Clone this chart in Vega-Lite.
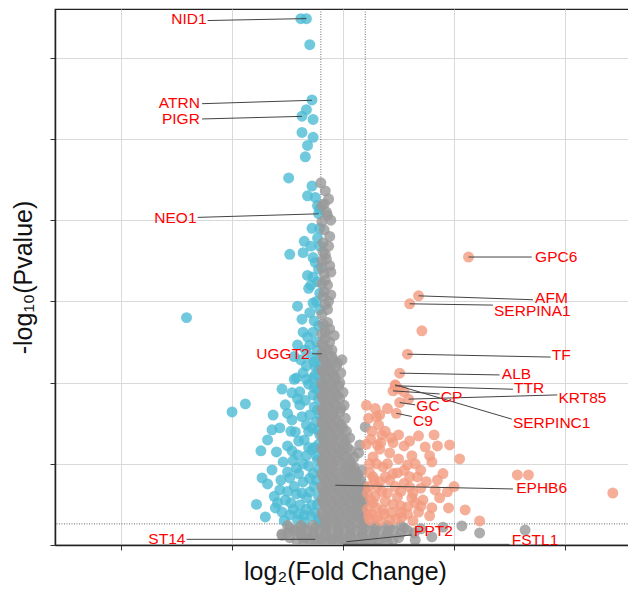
{
  "$schema": "https://vega.github.io/schema/vega-lite/v6.json",
  "width": 580,
  "height": 536,
  "autosize": "none",
  "padding": {"left": 55, "top": 9, "right": 0, "bottom": 46},
  "background": "white",
  "config": {
    "font": "Liberation Sans",
    "view": {"stroke": "#222222", "strokeWidth": 1.2},
    "axis": {
      "labels": false,
      "grid": true,
      "gridColor": "#D9D9D9",
      "gridWidth": 1,
      "tickColor": "#333333",
      "tickSize": 5,
      "domainColor": "#222222",
      "domainWidth": 1.5,
      "titleFont": "Liberation Sans",
      "titleFontWeight": "normal",
      "titleFontSize": 25,
      "titleColor": "#111111"
    }
  },
  "datasets": {
    "pts": [
      {"x":-0.38,"y":32.4,"g":"Down"},{"x":-0.33,"y":32.4,"g":"Down"},{"x":-0.30,"y":30.8,"g":"Down"},{"x":-0.28,"y":27.4,"g":"Down"},
      {"x":-0.37,"y":26.4,"g":"Down"},{"x":-0.33,"y":26.8,"g":"Down"},{"x":-0.27,"y":26.2,"g":"Down"},{"x":-0.37,"y":25.4,"g":"Down"},
      {"x":-0.27,"y":25.1,"g":"Down"},{"x":-0.32,"y":24.6,"g":"Down"},{"x":-0.34,"y":23.9,"g":"Down"},{"x":-0.49,"y":22.6,"g":"Down"},
      {"x":-0.28,"y":22.1,"g":"Down"},{"x":-0.32,"y":21.5,"g":"Down"},{"x":-0.25,"y":21.4,"g":"Down"},{"x":-0.23,"y":20.9,"g":"Down"},
      {"x":-0.21,"y":20.7,"g":"Down"},{"x":-0.22,"y":20.4,"g":"Down"},{"x":-0.28,"y":19.5,"g":"Down"},{"x":-0.21,"y":19.5,"g":"Down"},
      {"x":-0.35,"y":18.7,"g":"Down"},{"x":-0.23,"y":18.9,"g":"Down"},{"x":-0.21,"y":18.4,"g":"Down"},{"x":-0.36,"y":18.0,"g":"Down"},
      {"x":-0.48,"y":17.9,"g":"Down"},{"x":-0.27,"y":17.7,"g":"Down"},{"x":-0.25,"y":17.4,"g":"Down"},{"x":-0.32,"y":16.6,"g":"Down"},
      {"x":-0.27,"y":16.5,"g":"Down"},{"x":-0.23,"y":16.2,"g":"Down"},{"x":-0.21,"y":15.5,"g":"Down"},{"x":-0.41,"y":14.7,"g":"Down"},
      {"x":-0.27,"y":14.9,"g":"Down"},{"x":-0.30,"y":14.3,"g":"Down"},{"x":-0.36,"y":13.1,"g":"Down"},{"x":-0.27,"y":13.1,"g":"Down"},
      {"x":-0.32,"y":12.8,"g":"Down"},{"x":-1.41,"y":14.0,"g":"Down"},
      {"x":-0.42,"y":10.29,"g":"Down"},{"x":-0.33,"y":11.03,"g":"Down"},{"x":-0.26,"y":11.28,"g":"Down"},{"x":-0.39,"y":9.43,"g":"Down"},
      {"x":-0.46,"y":9.37,"g":"Down"},{"x":-0.27,"y":9.24,"g":"Down"},{"x":-0.52,"y":8.63,"g":"Down"},{"x":-0.39,"y":8.63,"g":"Down"},
      {"x":-0.46,"y":7.70,"g":"Down"},{"x":-0.30,"y":8.01,"g":"Down"},{"x":-0.57,"y":7.21,"g":"Down"},{"x":-0.43,"y":6.96,"g":"Down"},
      {"x":-0.35,"y":6.47,"g":"Down"},{"x":-0.50,"y":6.10,"g":"Down"},{"x":-0.60,"y":5.73,"g":"Down"},{"x":-0.41,"y":5.55,"g":"Down"},
      {"x":-0.28,"y":5.85,"g":"Down"},{"x":-0.68,"y":6.47,"g":"Down"},{"x":-0.54,"y":5.11,"g":"Down"},{"x":-0.42,"y":4.74,"g":"Down"},
      {"x":-0.31,"y":4.87,"g":"Down"},{"x":-0.64,"y":4.62,"g":"Down"},{"x":-0.73,"y":4.13,"g":"Down"},{"x":-0.48,"y":4.13,"g":"Down"},
      {"x":-0.36,"y":3.88,"g":"Down"},{"x":-0.57,"y":3.39,"g":"Down"},{"x":-0.68,"y":3.76,"g":"Down"},{"x":-0.42,"y":3.14,"g":"Down"},
      {"x":-0.30,"y":3.27,"g":"Down"},{"x":-0.52,"y":2.77,"g":"Down"},{"x":-0.39,"y":2.46,"g":"Down"},{"x":-0.61,"y":2.28,"g":"Down"},
      {"x":-0.48,"y":1.85,"g":"Down"},{"x":-0.35,"y":1.85,"g":"Down"},{"x":-0.70,"y":1.73,"g":"Down"},{"x":-0.55,"y":2.03,"g":"Down"},
      {"x":-0.41,"y":1.54,"g":"Down"},{"x":-0.28,"y":2.46,"g":"Down"},{"x":-0.24,"y":4.00,"g":"Down"},{"x":-0.23,"y":5.24,"g":"Down"},
      {"x":-0.23,"y":7.09,"g":"Down"},{"x":-0.23,"y":8.32,"g":"Down"},{"x":-0.23,"y":9.55,"g":"Down"},{"x":-0.25,"y":10.47,"g":"Down"},
      {"x":-0.23,"y":12.01,"g":"Down"},{"x":-0.34,"y":12.01,"g":"Down"},{"x":-0.41,"y":12.32,"g":"Down"},{"x":-1.00,"y":8.19,"g":"Down"},
      {"x":-0.88,"y":8.69,"g":"Down"},{"x":-0.64,"y":7.09,"g":"Down"},
      {"x":-0.22,"y":3.0,"g":"Down"},{"x":-0.25,"y":2.0,"g":"Down"},{"x":-0.22,"y":1.6,"g":"Down"},{"x":-0.26,"y":6.0,"g":"Down"},
      {"x":-0.21,"y":6.8,"g":"Down"},{"x":-0.24,"y":7.6,"g":"Down"},{"x":-0.22,"y":9.0,"g":"Down"},{"x":-0.25,"y":11.0,"g":"Down"},
      {"x":-0.21,"y":10.0,"g":"Down"},{"x":-0.24,"y":12.5,"g":"Down"},{"x":-0.22,"y":13.5,"g":"Down"},{"x":-0.21,"y":14.5,"g":"Down"},
      {"x":-0.26,"y":13.8,"g":"Down"},{"x":-0.24,"y":15.0,"g":"Down"},{"x":-0.31,"y":15.8,"g":"Down"},{"x":-0.22,"y":17.0,"g":"Down"},
      {"x":-0.29,"y":18.4,"g":"Down"},{"x":-0.31,"y":9.9,"g":"Down"},{"x":-0.33,"y":7.4,"g":"Down"},{"x":-0.36,"y":5.0,"g":"Down"},
      {"x":-0.27,"y":4.4,"g":"Down"},{"x":-0.33,"y":2.9,"g":"Down"},{"x":-0.45,"y":2.2,"g":"Down"},{"x":-0.50,"y":4.5,"g":"Down"},
      {"x":-0.62,"y":3.0,"g":"Down"},{"x":-0.47,"y":7.0,"g":"Down"},{"x":-0.55,"y":9.6,"g":"Down"},{"x":-0.36,"y":10.6,"g":"Down"},
      {"x":-0.44,"y":11.6,"g":"Down"},{"x":-0.30,"y":12.3,"g":"Down"},{"x":-0.37,"y":13.9,"g":"Down"},{"x":-0.29,"y":16.0,"g":"Down"},
      {"x":-0.78,"y":2.5,"g":"Down"},{"x":-0.74,"y":5.8,"g":"Down"},{"x":-0.63,"y":8.0,"g":"Down"},
      {"x":-0.29,"y":11.6,"g":"Down"},{"x":-0.38,"y":11.4,"g":"Down"},{"x":-0.22,"y":10.8,"g":"Down"},{"x":-0.33,"y":10.2,"g":"Down"},
      {"x":-0.26,"y":9.7,"g":"Down"},{"x":-0.41,"y":9.0,"g":"Down"},{"x":-0.34,"y":8.9,"g":"Down"},{"x":-0.26,"y":8.5,"g":"Down"},
      {"x":-0.21,"y":8.0,"g":"Down"},{"x":-0.37,"y":7.9,"g":"Down"},{"x":-0.28,"y":7.2,"g":"Down"},{"x":-0.40,"y":6.4,"g":"Down"},
      {"x":-0.22,"y":6.2,"g":"Down"},{"x":-0.31,"y":6.0,"g":"Down"},{"x":-0.46,"y":5.8,"g":"Down"},{"x":-0.24,"y":5.5,"g":"Down"},
      {"x":-0.33,"y":5.5,"g":"Down"},{"x":-0.45,"y":5.2,"g":"Down"},{"x":-0.22,"y":4.7,"g":"Down"},{"x":-0.40,"y":4.4,"g":"Down"},
      {"x":-0.30,"y":4.1,"g":"Down"},{"x":-0.56,"y":4.0,"g":"Down"},{"x":-0.44,"y":3.6,"g":"Down"},{"x":-0.26,"y":3.6,"g":"Down"},
      {"x":-0.50,"y":3.3,"g":"Down"},{"x":-0.37,"y":3.2,"g":"Down"},{"x":-0.23,"y":2.5,"g":"Down"},{"x":-0.47,"y":2.6,"g":"Down"},
      {"x":-0.33,"y":2.2,"g":"Down"},{"x":-0.59,"y":2.6,"g":"Down"},{"x":-0.29,"y":1.8,"g":"Down"},{"x":-0.40,"y":1.9,"g":"Down"},
      {"x":-0.22,"y":1.4,"g":"Down"},{"x":-0.53,"y":1.5,"g":"Down"},{"x":-0.35,"y":1.4,"g":"Down"},{"x":-0.31,"y":7.0,"g":"Down"},
      {"x":-0.50,"y":8.1,"g":"Down"},{"x":-0.44,"y":10.2,"g":"Down"},{"x":-0.21,"y":11.5,"g":"Down"},{"x":-0.27,"y":10.3,"g":"Down"},

      {"x":-0.20,"y":22.3,"g":"NS"},{"x":-0.14,"y":20.3,"g":"NS"},{"x":-0.19,"y":19.9,"g":"NS"},{"x":-0.18,"y":18.05,"g":"NS"},
      {"x":-0.19,"y":17.07,"g":"NS"},{"x":-0.16,"y":16.3,"g":"NS"},{"x":-0.19,"y":16.1,"g":"NS"},{"x":-0.14,"y":14.5,"g":"NS"},
      {"x":-0.19,"y":14.2,"g":"NS"},{"x":-0.14,"y":13.7,"g":"NS"},{"x":-0.16,"y":13.1,"g":"NS"},{"x":-0.12,"y":12.5,"g":"NS"},
      {"x":-0.15,"y":20.5,"g":"NS"},{"x":-0.17,"y":21.0,"g":"NS"},{"x":-0.12,"y":19.0,"g":"NS"},{"x":-0.18,"y":18.6,"g":"NS"},
      {"x":-0.15,"y":17.6,"g":"NS"},{"x":-0.11,"y":16.8,"g":"NS"},{"x":-0.17,"y":15.6,"g":"NS"},{"x":-0.13,"y":15.0,"g":"NS"},
      {"x":-0.19,"y":13.0,"g":"NS"},{"x":-0.10,"y":12.0,"g":"NS"},{"x":-0.17,"y":12.2,"g":"NS"},{"x":-0.19,"y":11.77,"g":"NS"},
      {"x":-0.16,"y":21.8,"g":"NS"},{"x":-0.13,"y":21.3,"g":"NS"},{"x":-0.19,"y":20.9,"g":"NS"},{"x":-0.11,"y":20.0,"g":"NS"},
      {"x":-0.17,"y":19.4,"g":"NS"},{"x":-0.13,"y":18.4,"g":"NS"},{"x":-0.16,"y":17.9,"g":"NS"},{"x":-0.19,"y":17.5,"g":"NS"},
      {"x":-0.12,"y":17.2,"g":"NS"},{"x":-0.17,"y":16.7,"g":"NS"},{"x":-0.14,"y":16.0,"g":"NS"},{"x":-0.18,"y":15.3,"g":"NS"},
      {"x":-0.11,"y":15.4,"g":"NS"},{"x":-0.16,"y":14.8,"g":"NS"},{"x":-0.18,"y":13.6,"g":"NS"},{"x":-0.12,"y":13.3,"g":"NS"},
      {"x":-0.16,"y":12.7,"g":"NS"},{"x":-0.08,"y":12.9,"g":"NS"},{"x":-0.14,"y":12.0,"g":"NS"},{"x":-0.19,"y":12.4,"g":"NS"},
      {"x":-0.18,"y":11.6,"g":"NS"},{"x":-0.10,"y":11.6,"g":"NS"},{"x":-0.15,"y":11.2,"g":"NS"},{"x":-0.05,"y":11.2,"g":"NS"},
      {"x":-0.19,"y":10.8,"g":"NS"},{"x":-0.12,"y":10.8,"g":"NS"},{"x":-0.16,"y":10.4,"g":"NS"},{"x":-0.08,"y":10.4,"g":"NS"},
      {"x":-0.19,"y":10.0,"g":"NS"},{"x":-0.11,"y":10.0,"g":"NS"},{"x":-0.03,"y":10.0,"g":"NS"},{"x":-0.17,"y":9.6,"g":"NS"},
      {"x":-0.09,"y":9.6,"g":"NS"},{"x":-0.19,"y":9.2,"g":"NS"},{"x":-0.13,"y":9.2,"g":"NS"},{"x":-0.05,"y":9.2,"g":"NS"},
      {"x":-0.16,"y":8.8,"g":"NS"},{"x":-0.08,"y":8.8,"g":"NS"},{"x":-0.19,"y":8.4,"g":"NS"},{"x":-0.12,"y":8.4,"g":"NS"},
      {"x":-0.02,"y":8.4,"g":"NS"},{"x":-0.17,"y":8.0,"g":"NS"},{"x":-0.09,"y":8.0,"g":"NS"},{"x":-0.19,"y":7.6,"g":"NS"},
      {"x":-0.13,"y":7.6,"g":"NS"},{"x":-0.05,"y":7.6,"g":"NS"},{"x":-0.16,"y":7.2,"g":"NS"},{"x":-0.08,"y":7.2,"g":"NS"},
      {"x":0.0,"y":7.2,"g":"NS"},{"x":-0.19,"y":6.8,"g":"NS"},{"x":-0.12,"y":6.8,"g":"NS"},{"x":-0.04,"y":6.8,"g":"NS"},
      {"x":-0.17,"y":6.4,"g":"NS"},{"x":-0.09,"y":6.4,"g":"NS"},{"x":0.02,"y":6.4,"g":"NS"},{"x":-0.19,"y":6.0,"g":"NS"},
      {"x":-0.13,"y":6.0,"g":"NS"},{"x":-0.05,"y":6.0,"g":"NS"},{"x":0.04,"y":6.0,"g":"NS"},{"x":-0.16,"y":5.6,"g":"NS"},
      {"x":-0.08,"y":5.6,"g":"NS"},{"x":0.0,"y":5.6,"g":"NS"},{"x":-0.19,"y":5.2,"g":"NS"},{"x":-0.12,"y":5.2,"g":"NS"},
      {"x":-0.04,"y":5.2,"g":"NS"},{"x":0.06,"y":5.2,"g":"NS"},{"x":-0.17,"y":4.8,"g":"NS"},{"x":-0.09,"y":4.8,"g":"NS"},
      {"x":0.02,"y":4.8,"g":"NS"},{"x":0.10,"y":4.8,"g":"NS"},{"x":-0.19,"y":4.4,"g":"NS"},{"x":-0.13,"y":4.4,"g":"NS"},
      {"x":-0.05,"y":4.4,"g":"NS"},{"x":0.05,"y":4.4,"g":"NS"},{"x":0.13,"y":4.4,"g":"NS"},{"x":-0.16,"y":4.0,"g":"NS"},
      {"x":-0.08,"y":4.0,"g":"NS"},{"x":0.0,"y":4.0,"g":"NS"},{"x":0.09,"y":4.0,"g":"NS"},{"x":0.16,"y":4.0,"g":"NS"},
      {"x":-0.07,"y":3.68,"g":"NS"},{"x":-0.19,"y":3.6,"g":"NS"},{"x":-0.12,"y":3.6,"g":"NS"},{"x":-0.04,"y":3.6,"g":"NS"},
      {"x":0.04,"y":3.6,"g":"NS"},{"x":0.12,"y":3.6,"g":"NS"},{"x":0.19,"y":3.6,"g":"NS"},{"x":-0.17,"y":3.2,"g":"NS"},
      {"x":-0.09,"y":3.2,"g":"NS"},{"x":0.0,"y":3.2,"g":"NS"},{"x":0.08,"y":3.2,"g":"NS"},{"x":0.15,"y":3.2,"g":"NS"},
      {"x":-0.19,"y":2.8,"g":"NS"},{"x":-0.13,"y":2.8,"g":"NS"},{"x":-0.05,"y":2.8,"g":"NS"},{"x":0.03,"y":2.8,"g":"NS"},
      {"x":0.11,"y":2.8,"g":"NS"},{"x":0.18,"y":2.8,"g":"NS"},{"x":-0.16,"y":2.4,"g":"NS"},{"x":-0.08,"y":2.4,"g":"NS"},
      {"x":0.0,"y":2.4,"g":"NS"},{"x":0.08,"y":2.4,"g":"NS"},{"x":0.15,"y":2.4,"g":"NS"},{"x":-0.19,"y":2.0,"g":"NS"},
      {"x":-0.12,"y":2.0,"g":"NS"},{"x":-0.04,"y":2.0,"g":"NS"},{"x":0.04,"y":2.0,"g":"NS"},{"x":0.12,"y":2.0,"g":"NS"},
      {"x":0.19,"y":2.0,"g":"NS"},{"x":-0.17,"y":1.6,"g":"NS"},{"x":-0.09,"y":1.6,"g":"NS"},{"x":0.0,"y":1.6,"g":"NS"},
      {"x":0.08,"y":1.6,"g":"NS"},{"x":0.16,"y":1.6,"g":"NS"},
      {"x":-0.17,"y":11.4,"g":"NS"},{"x":-0.09,"y":11.4,"g":"NS"},{"x":-0.01,"y":11.4,"g":"NS"},{"x":-0.14,"y":11.0,"g":"NS"},
      {"x":-0.06,"y":11.0,"g":"NS"},{"x":-0.18,"y":10.6,"g":"NS"},{"x":-0.10,"y":10.6,"g":"NS"},{"x":-0.02,"y":10.6,"g":"NS"},
      {"x":-0.15,"y":10.2,"g":"NS"},{"x":-0.07,"y":10.2,"g":"NS"},{"x":-0.18,"y":9.8,"g":"NS"},{"x":-0.12,"y":9.8,"g":"NS"},
      {"x":-0.04,"y":9.8,"g":"NS"},{"x":-0.16,"y":9.4,"g":"NS"},{"x":-0.08,"y":9.4,"g":"NS"},{"x":0.0,"y":9.4,"g":"NS"},
      {"x":-0.18,"y":9.0,"g":"NS"},{"x":-0.11,"y":9.0,"g":"NS"},{"x":-0.03,"y":9.0,"g":"NS"},{"x":-0.15,"y":8.6,"g":"NS"},
      {"x":-0.07,"y":8.6,"g":"NS"},{"x":0.01,"y":8.6,"g":"NS"},{"x":-0.18,"y":8.2,"g":"NS"},{"x":-0.10,"y":8.2,"g":"NS"},
      {"x":-0.03,"y":8.2,"g":"NS"},{"x":-0.15,"y":7.8,"g":"NS"},{"x":-0.07,"y":7.8,"g":"NS"},{"x":0.02,"y":7.8,"g":"NS"},
      {"x":-0.18,"y":7.4,"g":"NS"},{"x":-0.11,"y":7.4,"g":"NS"},{"x":-0.02,"y":7.4,"g":"NS"},{"x":-0.15,"y":7.0,"g":"NS"},
      {"x":-0.06,"y":7.0,"g":"NS"},{"x":0.03,"y":7.0,"g":"NS"},{"x":-0.18,"y":6.6,"g":"NS"},{"x":-0.10,"y":6.6,"g":"NS"},
      {"x":-0.01,"y":6.6,"g":"NS"},{"x":0.06,"y":6.6,"g":"NS"},{"x":-0.15,"y":6.2,"g":"NS"},{"x":-0.07,"y":6.2,"g":"NS"},
      {"x":0.01,"y":6.2,"g":"NS"},{"x":-0.18,"y":5.8,"g":"NS"},{"x":-0.11,"y":5.8,"g":"NS"},{"x":-0.02,"y":5.8,"g":"NS"},
      {"x":0.07,"y":5.8,"g":"NS"},{"x":-0.15,"y":5.4,"g":"NS"},{"x":-0.06,"y":5.4,"g":"NS"},{"x":0.03,"y":5.4,"g":"NS"},
      {"x":0.10,"y":5.4,"g":"NS"},{"x":-0.18,"y":5.0,"g":"NS"},{"x":-0.10,"y":5.0,"g":"NS"},{"x":-0.01,"y":5.0,"g":"NS"},
      {"x":0.07,"y":5.0,"g":"NS"},{"x":-0.15,"y":4.6,"g":"NS"},{"x":-0.07,"y":4.6,"g":"NS"},{"x":0.02,"y":4.6,"g":"NS"},
      {"x":0.10,"y":4.6,"g":"NS"},{"x":0.17,"y":4.6,"g":"NS"},{"x":-0.18,"y":4.2,"g":"NS"},{"x":-0.11,"y":4.2,"g":"NS"},
      {"x":-0.02,"y":4.2,"g":"NS"},{"x":0.06,"y":4.2,"g":"NS"},{"x":0.13,"y":4.2,"g":"NS"},{"x":-0.15,"y":3.8,"g":"NS"},
      {"x":-0.07,"y":3.8,"g":"NS"},{"x":0.01,"y":3.8,"g":"NS"},{"x":0.08,"y":3.8,"g":"NS"},{"x":0.15,"y":3.8,"g":"NS"},
      {"x":-0.18,"y":3.4,"g":"NS"},{"x":-0.12,"y":3.4,"g":"NS"},{"x":-0.04,"y":3.4,"g":"NS"},{"x":0.04,"y":3.4,"g":"NS"},
      {"x":0.12,"y":3.4,"g":"NS"},{"x":0.19,"y":3.4,"g":"NS"},{"x":-0.15,"y":3.0,"g":"NS"},{"x":-0.06,"y":3.0,"g":"NS"},
      {"x":0.03,"y":3.0,"g":"NS"},{"x":0.11,"y":3.0,"g":"NS"},{"x":0.18,"y":3.0,"g":"NS"},{"x":-0.18,"y":2.6,"g":"NS"},
      {"x":-0.10,"y":2.6,"g":"NS"},{"x":-0.02,"y":2.6,"g":"NS"},{"x":0.06,"y":2.6,"g":"NS"},{"x":0.13,"y":2.6,"g":"NS"},
      {"x":0.19,"y":2.6,"g":"NS"},{"x":-0.14,"y":2.2,"g":"NS"},{"x":-0.06,"y":2.2,"g":"NS"},{"x":0.02,"y":2.2,"g":"NS"},
      {"x":0.10,"y":2.2,"g":"NS"},{"x":0.17,"y":2.2,"g":"NS"},{"x":-0.18,"y":1.8,"g":"NS"},{"x":-0.11,"y":1.8,"g":"NS"},
      {"x":-0.03,"y":1.8,"g":"NS"},{"x":0.05,"y":1.8,"g":"NS"},{"x":0.12,"y":1.8,"g":"NS"},{"x":0.19,"y":1.8,"g":"NS"},
      {"x":-0.15,"y":1.4,"g":"NS"},{"x":-0.06,"y":1.4,"g":"NS"},{"x":0.03,"y":1.4,"g":"NS"},{"x":0.12,"y":1.4,"g":"NS"},
      {"x":0.19,"y":1.4,"g":"NS"},
      {"x":-0.50,"y":1.2,"g":"NS"},{"x":-0.38,"y":1.2,"g":"NS"},{"x":-0.27,"y":1.2,"g":"NS"},{"x":-0.16,"y":1.2,"g":"NS"},
      {"x":-0.05,"y":1.2,"g":"NS"},{"x":0.06,"y":1.2,"g":"NS"},{"x":0.17,"y":1.2,"g":"NS"},{"x":0.28,"y":1.2,"g":"NS"},
      {"x":0.40,"y":1.2,"g":"NS"},{"x":0.52,"y":1.2,"g":"NS"},{"x":-0.44,"y":0.9,"g":"NS"},{"x":-0.32,"y":0.9,"g":"NS"},
      {"x":-0.21,"y":0.9,"g":"NS"},{"x":-0.10,"y":0.9,"g":"NS"},{"x":0.01,"y":0.9,"g":"NS"},{"x":0.12,"y":0.9,"g":"NS"},
      {"x":0.23,"y":0.9,"g":"NS"},{"x":0.34,"y":0.9,"g":"NS"},{"x":0.46,"y":0.9,"g":"NS"},{"x":0.58,"y":0.9,"g":"NS"},
      {"x":-0.55,"y":0.6,"g":"NS"},{"x":-0.38,"y":0.6,"g":"NS"},{"x":-0.27,"y":0.6,"g":"NS"},{"x":-0.16,"y":0.6,"g":"NS"},
      {"x":-0.05,"y":0.6,"g":"NS"},{"x":0.06,"y":0.6,"g":"NS"},{"x":0.17,"y":0.6,"g":"NS"},{"x":0.28,"y":0.6,"g":"NS"},
      {"x":0.40,"y":0.6,"g":"NS"},{"x":-0.42,"y":0.3,"g":"NS"},{"x":-0.30,"y":0.3,"g":"NS"},{"x":-0.20,"y":0.3,"g":"NS"},
      {"x":-0.10,"y":0.3,"g":"NS"},{"x":0.0,"y":0.3,"g":"NS"},{"x":0.10,"y":0.3,"g":"NS"},{"x":0.20,"y":0.3,"g":"NS"},
      {"x":0.32,"y":0.3,"g":"NS"},{"x":0.45,"y":0.3,"g":"NS"},{"x":-0.25,"y":0.05,"g":"NS"},{"x":-0.15,"y":0.05,"g":"NS"},
      {"x":-0.05,"y":0.05,"g":"NS"},{"x":0.05,"y":0.05,"g":"NS"},{"x":0.15,"y":0.05,"g":"NS"},{"x":0.25,"y":0.05,"g":"NS"},
      {"x":-0.48,"y":1.05,"g":"NS"},{"x":-0.36,"y":1.05,"g":"NS"},{"x":-0.25,"y":1.05,"g":"NS"},{"x":-0.14,"y":1.05,"g":"NS"},
      {"x":-0.03,"y":1.05,"g":"NS"},{"x":0.08,"y":1.05,"g":"NS"},{"x":0.19,"y":1.05,"g":"NS"},{"x":0.30,"y":1.05,"g":"NS"},
      {"x":0.42,"y":1.05,"g":"NS"},{"x":0.55,"y":1.05,"g":"NS"},{"x":-0.50,"y":0.75,"g":"NS"},{"x":-0.38,"y":0.75,"g":"NS"},
      {"x":-0.27,"y":0.75,"g":"NS"},{"x":-0.16,"y":0.75,"g":"NS"},{"x":-0.05,"y":0.75,"g":"NS"},{"x":0.06,"y":0.75,"g":"NS"},
      {"x":0.17,"y":0.75,"g":"NS"},{"x":0.28,"y":0.75,"g":"NS"},{"x":0.40,"y":0.75,"g":"NS"},{"x":0.52,"y":0.75,"g":"NS"},
      {"x":0.64,"y":0.75,"g":"NS"},{"x":-0.48,"y":0.45,"g":"NS"},{"x":-0.33,"y":0.45,"g":"NS"},{"x":-0.22,"y":0.45,"g":"NS"},
      {"x":-0.12,"y":0.45,"g":"NS"},{"x":-0.02,"y":0.45,"g":"NS"},{"x":0.08,"y":0.45,"g":"NS"},{"x":0.18,"y":0.45,"g":"NS"},
      {"x":0.27,"y":0.45,"g":"NS"},{"x":0.38,"y":0.45,"g":"NS"},{"x":0.50,"y":0.45,"g":"NS"},{"x":-0.35,"y":0.15,"g":"NS"},
      {"x":-0.20,"y":0.15,"g":"NS"},{"x":-0.10,"y":0.15,"g":"NS"},{"x":0.0,"y":0.15,"g":"NS"},{"x":0.10,"y":0.15,"g":"NS"},
      {"x":0.20,"y":0.15,"g":"NS"},{"x":0.30,"y":0.15,"g":"NS"},{"x":0.40,"y":0.15,"g":"NS"},
      {"x":1.07,"y":1.17,"g":"NS"},{"x":1.23,"y":0.74,"g":"NS"},{"x":1.64,"y":0.92,"g":"NS"},{"x":0.20,"y":7.27,"g":"NS"},
      {"x":0.15,"y":6.16,"g":"NS"},{"x":0.14,"y":5.67,"g":"NS"},{"x":0.08,"y":4.5,"g":"NS"},{"x":-0.55,"y":0.68,"g":"NS"},
      {"x":-0.43,"y":0.92,"g":"NS"},{"x":-0.36,"y":0.43,"g":"NS"},{"x":0.70,"y":1.0,"g":"NS"},{"x":0.80,"y":0.5,"g":"NS"},
      {"x":0.65,"y":0.3,"g":"NS"},{"x":0.90,"y":1.1,"g":"NS"},{"x":-0.25,"y":0.35,"g":"NS"},{"x":0.03,"y":0.20,"g":"NS"},
      {"x":0.0,"y":0.04,"g":"NS"},

      {"x":1.13,"y":17.73,"g":"Up"},{"x":0.68,"y":15.34,"g":"Up"},{"x":0.60,"y":14.85,"g":"Up"},{"x":0.58,"y":11.75,"g":"Up"},
      {"x":0.51,"y":10.58,"g":"Up"},{"x":0.47,"y":9.80,"g":"Up"},{"x":0.45,"y":9.49,"g":"Up"},{"x":0.59,"y":8.98,"g":"Up"},
      {"x":0.51,"y":8.77,"g":"Up"},{"x":0.48,"y":8.11,"g":"Up"},{"x":0.47,"y":9.86,"g":"Up"},{"x":0.71,"y":13.19,"g":"Up"},
      {"x":0.55,"y":9.43,"g":"Up"},{"x":0.50,"y":9.61,"g":"Up"},{"x":0.33,"y":8.01,"g":"Up"},
      {"x":0.32,"y":7.39,"g":"Up"},{"x":0.35,"y":6.78,"g":"Up"},{"x":0.50,"y":6.78,"g":"Up"},{"x":0.68,"y":6.72,"g":"Up"},
      {"x":0.82,"y":6.78,"g":"Up"},{"x":0.74,"y":6.04,"g":"Up"},{"x":0.85,"y":6.10,"g":"Up"},{"x":0.96,"y":6.16,"g":"Up"},
      {"x":0.31,"y":6.16,"g":"Up"},{"x":0.42,"y":5.67,"g":"Up"},{"x":0.27,"y":5.42,"g":"Up"},{"x":0.58,"y":4.93,"g":"Up"},
      {"x":0.80,"y":5.11,"g":"Up"},{"x":1.57,"y":4.31,"g":"Up"},{"x":1.67,"y":4.31,"g":"Up"},{"x":2.43,"y":3.20,"g":"Up"},
      {"x":1.10,"y":2.16,"g":"Up"},{"x":1.23,"y":1.48,"g":"Up"},{"x":0.83,"y":3.39,"g":"Up"},{"x":0.87,"y":2.90,"g":"Up"},
      {"x":0.72,"y":2.77,"g":"Up"},{"x":0.60,"y":3.57,"g":"Up"},{"x":0.42,"y":4.00,"g":"Up"},{"x":0.31,"y":3.57,"g":"Up"},
      {"x":0.49,"y":2.96,"g":"Up"},{"x":0.58,"y":2.34,"g":"Up"},{"x":0.36,"y":2.16,"g":"Up"},{"x":0.27,"y":2.59,"g":"Up"},
      {"x":0.24,"y":4.44,"g":"Up"},{"x":0.36,"y":4.81,"g":"Up"},{"x":0.49,"y":4.44,"g":"Up"},{"x":0.67,"y":4.19,"g":"Up"},
      {"x":0.31,"y":1.73,"g":"Up"},{"x":0.42,"y":1.54,"g":"Up"},{"x":0.53,"y":1.73,"g":"Up"},{"x":0.68,"y":2.03,"g":"Up"},
      {"x":0.24,"y":1.54,"g":"Up"},{"x":0.94,"y":3.27,"g":"Up"},{"x":0.95,"y":2.28,"g":"Up"},
      {"x":0.22,"y":3.2,"g":"Up"},{"x":0.25,"y":6.5,"g":"Up"},{"x":0.23,"y":7.8,"g":"Up"},{"x":0.38,"y":7.0,"g":"Up"},
      {"x":0.45,"y":6.3,"g":"Up"},{"x":0.40,"y":3.2,"g":"Up"},{"x":0.55,"y":3.8,"g":"Up"},{"x":0.62,"y":5.5,"g":"Up"},
      {"x":0.70,"y":4.6,"g":"Up"},{"x":0.50,"y":5.3,"g":"Up"},{"x":0.33,"y":5.9,"g":"Up"},{"x":0.29,"y":3.0,"g":"Up"},
      {"x":0.22,"y":2.2,"g":"Up"},{"x":0.26,"y":1.9,"g":"Up"},{"x":0.45,"y":2.5,"g":"Up"},{"x":0.65,"y":2.6,"g":"Up"},
      {"x":0.75,"y":3.9,"g":"Up"},{"x":0.55,"y":6.1,"g":"Up"},{"x":0.40,"y":8.4,"g":"Up"},{"x":0.24,"y":5.0,"g":"Up"},
      {"x":0.28,"y":4.0,"g":"Up"},{"x":0.35,"y":3.3,"g":"Up"},{"x":0.47,"y":3.6,"g":"Up"},{"x":0.58,"y":1.9,"g":"Up"},
      {"x":0.78,"y":1.8,"g":"Up"},{"x":0.90,"y":4.4,"g":"Up"},{"x":1.00,"y":3.6,"g":"Up"},{"x":0.21,"y":6.2,"g":"Up"},
      {"x":0.30,"y":7.9,"g":"Up"},{"x":0.21,"y":8.6,"g":"Up"},{"x":0.33,"y":1.5,"g":"Up"},{"x":0.48,"y":1.6,"g":"Up"},
      {"x":0.63,"y":1.5,"g":"Up"},{"x":1.05,"y":5.3,"g":"Up"},{"x":0.29,"y":8.4,"g":"Up"},
      {"x":0.26,"y":7.0,"g":"Up"},{"x":0.34,"y":6.3,"g":"Up"},{"x":0.43,"y":6.6,"g":"Up"},{"x":0.60,"y":6.4,"g":"Up"},
      {"x":0.30,"y":5.0,"g":"Up"},{"x":0.40,"y":5.0,"g":"Up"},{"x":0.55,"y":4.6,"g":"Up"},{"x":0.65,"y":5.0,"g":"Up"},
      {"x":0.27,"y":4.2,"g":"Up"},{"x":0.38,"y":4.2,"g":"Up"},{"x":0.45,"y":4.4,"g":"Up"},{"x":0.60,"y":4.2,"g":"Up"},
      {"x":0.23,"y":3.6,"g":"Up"},{"x":0.33,"y":3.9,"g":"Up"},{"x":0.52,"y":3.3,"g":"Up"},{"x":0.63,"y":3.2,"g":"Up"},
      {"x":0.70,"y":3.5,"g":"Up"},{"x":0.25,"y":2.8,"g":"Up"},{"x":0.38,"y":2.7,"g":"Up"},{"x":0.52,"y":2.4,"g":"Up"},
      {"x":0.62,"y":2.9,"g":"Up"},{"x":0.30,"y":2.3,"g":"Up"},{"x":0.44,"y":2.0,"g":"Up"},{"x":0.70,"y":2.4,"g":"Up"},
      {"x":0.23,"y":1.8,"g":"Up"},{"x":0.37,"y":1.9,"g":"Up"},{"x":0.52,"y":2.0,"g":"Up"},{"x":0.80,"y":2.3,"g":"Up"},
      {"x":0.85,"y":4.0,"g":"Up"},{"x":0.78,"y":5.5,"g":"Up"}
    ],
    "lab": [
      {"gene":"NID1","x":-0.33,"y":32.41,"sx":-1.22,"sy":32.29,"tx":-1.23,"ty":32.4,"side":"L"},
      {"gene":"ATRN","x":-0.28,"y":27.38,"sx":-1.27,"sy":27.17,"tx":-1.29,"ty":27.23,"side":"L"},
      {"gene":"PIGR","x":-0.37,"y":26.39,"sx":-1.27,"sy":26.23,"tx":-1.29,"ty":26.25,"side":"L"},
      {"gene":"NEO1","x":-0.22,"y":20.39,"sx":-1.31,"sy":20.17,"tx":-1.32,"ty":20.15,"side":"L"},
      {"gene":"UGGT2","x":-0.19,"y":11.77,"sx":-0.28,"sy":11.77,"tx":-0.30,"ty":11.77,"side":"L"},
      {"gene":"ST14","x":-0.25,"y":0.35,"sx":-1.41,"sy":0.35,"tx":-1.42,"ty":0.35,"side":"L"},
      {"gene":"GPC6","x":1.13,"y":17.73,"sx":1.70,"sy":17.73,"tx":1.73,"ty":17.73,"side":"R"},
      {"gene":"AFM","x":0.68,"y":15.34,"sx":1.71,"sy":15.10,"tx":1.73,"ty":15.2,"side":"R"},
      {"gene":"SERPINA1","x":0.60,"y":14.85,"sx":1.35,"sy":14.77,"tx":1.36,"ty":14.42,"side":"R"},
      {"gene":"TF","x":0.58,"y":11.75,"sx":1.87,"sy":11.57,"tx":1.88,"ty":11.7,"side":"R"},
      {"gene":"ALB","x":0.51,"y":10.58,"sx":1.41,"sy":10.47,"tx":1.43,"ty":10.54,"side":"R"},
      {"gene":"TTR","x":0.47,"y":9.80,"sx":1.53,"sy":9.59,"tx":1.54,"ty":9.67,"side":"R"},
      {"gene":"CP","x":0.45,"y":9.49,"sx":0.87,"sy":9.30,"tx":0.88,"ty":9.14,"side":"R"},
      {"gene":"KRT85","x":0.59,"y":8.98,"sx":1.93,"sy":9.24,"tx":1.94,"ty":9.08,"side":"R"},
      {"gene":"GC","x":0.51,"y":8.77,"sx":0.65,"sy":8.63,"tx":0.66,"ty":8.56,"side":"R"},
      {"gene":"C9","x":0.48,"y":8.11,"sx":0.62,"sy":7.91,"tx":0.63,"ty":7.64,"side":"R"},
      {"gene":"SERPINC1","x":0.47,"y":9.86,"sx":1.52,"sy":7.75,"tx":1.53,"ty":7.54,"side":"R"},
      {"gene":"EPHB6","x":-0.07,"y":3.68,"sx":1.53,"sy":3.45,"tx":1.56,"ty":3.51,"side":"R"},
      {"gene":"PPT2","x":0.03,"y":0.20,"sx":0.62,"sy":0.62,"tx":0.64,"ty":0.88,"side":"R"},
      {"gene":"FSTL1","x":0.0,"y":0.04,"sx":1.50,"sy":0.04,"tx":1.52,"ty":0.31,"side":"R"}
    ]
  },
  "resolve": {"scale": {"x": "shared", "y": "shared"}},
  "layer": [
    {
      "data": {"values": [{"v": -0.2}, {"v": 0.2}]},
      "mark": {"type": "rule", "color": "#444444", "strokeWidth": 0.8, "strokeDash": [1, 1.5]},
      "encoding": {
        "x": {"field": "v", "type": "quantitative",
          "scale": {"domain": [-2.595, 2.63], "nice": false, "zero": false},
          "axis": {"values": [-2, -1, 0, 1, 2], "title": "log₂(Fold Change)", "titlePadding": 9, "orient": "bottom"}}
      }
    },
    {
      "data": {"values": [{"v": 1.301}]},
      "mark": {"type": "rule", "color": "#444444", "strokeWidth": 0.8, "strokeDash": [1, 1.5]},
      "encoding": {
        "y": {"field": "v", "type": "quantitative",
          "scale": {"domain": [0, 33], "nice": false, "zero": false},
          "axis": {"values": [0, 5, 10, 15, 20, 25, 30], "title": "-log₁₀(Pvalue)", "titlePadding": 13}}
      }
    },
    {
      "data": {"name": "pts"},
      "mark": {"type": "circle", "size": 120, "opacity": 0.8, "clip": true},
      "encoding": {
        "x": {"field": "x", "type": "quantitative"},
        "y": {"field": "y", "type": "quantitative"},
        "color": {"field": "g", "type": "nominal",
          "scale": {"domain": ["Down", "NS", "Up"], "range": ["#4DBBD5", "#999999", "#F39B7F"]},
          "legend": null}
      }
    },
    {
      "data": {"name": "lab"},
      "mark": {"type": "rule", "color": "#444444", "strokeWidth": 1},
      "encoding": {
        "x": {"field": "x", "type": "quantitative"},
        "y": {"field": "y", "type": "quantitative"},
        "x2": {"field": "sx"},
        "y2": {"field": "sy"}
      }
    },
    {
      "data": {"name": "lab"},
      "transform": [{"filter": "datum.side === 'L'"}],
      "mark": {"type": "text", "align": "right", "baseline": "middle", "fontSize": 15.5, "color": "#FF0000", "font": "Liberation Sans"},
      "encoding": {
        "x": {"field": "tx", "type": "quantitative"},
        "y": {"field": "ty", "type": "quantitative"},
        "text": {"field": "gene"}
      }
    },
    {
      "data": {"name": "lab"},
      "transform": [{"filter": "datum.side === 'R'"}],
      "mark": {"type": "text", "align": "left", "baseline": "middle", "fontSize": 15.5, "color": "#FF0000", "font": "Liberation Sans"},
      "encoding": {
        "x": {"field": "tx", "type": "quantitative"},
        "y": {"field": "ty", "type": "quantitative"},
        "text": {"field": "gene"}
      }
    }
  ]
}
